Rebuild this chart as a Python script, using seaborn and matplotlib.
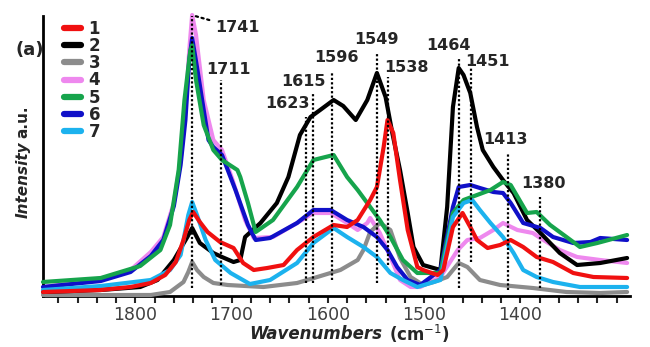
import matplotlib
matplotlib.use("Agg")
import matplotlib.pyplot as plt
from matplotlib.ticker import MultipleLocator
import seaborn as sns

# ------------------------------------------------------------
# Spectra (wavenumber cm-1, intensity a.u.)
# ------------------------------------------------------------
w1 = [1896, 1836, 1805, 1784, 1769, 1758, 1750, 1744, 1740, 1733, 1725, 1712, 1698, 1688, 1677, 1663,
      1646, 1632, 1615, 1594, 1580, 1569, 1556, 1549, 1542, 1538, 1532, 1525, 1517, 1507, 1501, 1486,
      1480, 1470, 1460, 1452, 1445, 1434, 1421, 1410, 1397, 1383, 1366, 1345, 1324, 1289]
i1 = [4, 6, 9, 13, 21, 34, 56, 76, 84, 74, 64, 54, 48, 33, 26, 28,
      31, 46, 59, 71, 69, 76, 96, 109, 149, 176, 163, 116, 66, 29, 26, 21,
      26, 69, 83, 69, 56, 48, 51, 56, 49, 39, 34, 23, 19, 18]

w2 = [1896, 1836, 1795, 1777, 1760, 1746, 1741, 1733, 1719, 1710, 1698, 1691, 1686, 1670, 1653, 1641,
      1629, 1618, 1608, 1594, 1584, 1571, 1559, 1549, 1540, 1533, 1525, 1517, 1511, 1501, 1483, 1476,
      1470, 1464, 1459, 1452, 1445, 1439, 1428, 1418, 1407, 1393, 1379, 1359, 1341, 1317, 1289]
i2 = [4, 6, 9, 16, 36, 59, 68, 53, 43, 39, 34, 36, 59, 73, 93, 119,
      161, 179, 186, 196, 190, 176, 196, 223, 199, 163, 126, 83, 49, 31, 26, 89,
      189, 228, 221, 203, 169, 146, 129, 116, 103, 76, 63, 43, 31, 33, 38]

w3 = [1896, 1784, 1764, 1750, 1745, 1741, 1736, 1729, 1719, 1704, 1667, 1632, 1611, 1587, 1569, 1563,
      1556, 1546, 1535, 1525, 1514, 1501, 1490, 1476, 1464, 1455, 1442, 1421, 1387, 1352, 1317, 1289]
i3 = [1, 1, 4, 14, 24, 34, 26, 19, 13, 11, 9, 13, 19, 26, 36, 46,
      64, 73, 66, 38, 19, 11, 14, 19, 33, 29, 16, 11, 8, 4, 3, 4]

w4 = [1896, 1864, 1829, 1805, 1784, 1771, 1760, 1753, 1748, 1744, 1741, 1737, 1729, 1719, 1710, 1699,
      1686, 1677, 1657, 1632, 1615, 1597, 1580, 1569, 1559, 1556, 1546, 1535, 1525, 1514, 1504, 1483,
      1465, 1455, 1442, 1428, 1418, 1403, 1387, 1376, 1359, 1341, 1317, 1289]
i4 = [9, 13, 19, 26, 44, 59, 93, 136, 186, 246, 281, 261, 196, 156, 146, 116,
      76, 58, 59, 73, 83, 83, 73, 66, 73, 78, 63, 39, 16, 9, 9, 19,
      46, 56, 58, 66, 73, 66, 63, 56, 46, 39, 36, 33]

w5 = [1896, 1836, 1795, 1774, 1764, 1755, 1749, 1743, 1741, 1737, 1729, 1719, 1710, 1694, 1691, 1683,
      1675, 1657, 1632, 1615, 1594, 1580, 1569, 1556, 1546, 1535, 1522, 1507, 1483, 1470, 1459, 1445,
      1431, 1418, 1410, 1393, 1383, 1369, 1352, 1338, 1320, 1289]
i5 = [14, 18, 30, 46, 71, 126, 196, 245, 251, 216, 171, 146, 136, 126, 119, 93,
      64, 76, 109, 136, 141, 119, 106, 89, 76, 59, 36, 23, 23, 83, 96, 101,
      106, 114, 111, 83, 84, 71, 59, 49, 53, 61]

w6 = [1896, 1836, 1805, 1784, 1771, 1760, 1753, 1748, 1744, 1741, 1736, 1729, 1724, 1719, 1710, 1696,
      1683, 1675, 1660, 1632, 1615, 1597, 1580, 1563, 1549, 1538, 1528, 1517, 1504, 1483, 1470, 1464,
      1452, 1442, 1428, 1418, 1410, 1397, 1379, 1366, 1345, 1327, 1317, 1289]
i6 = [9, 15, 24, 40, 56, 90, 131, 176, 236, 258, 229, 186, 156, 149, 141, 106,
      71, 56, 58, 73, 86, 86, 76, 69, 59, 46, 29, 16, 11, 26, 89, 109,
      111, 108, 104, 103, 93, 73, 68, 59, 53, 54, 58, 56]

w7 = [1896, 1836, 1784, 1764, 1753, 1745, 1741, 1736, 1727, 1717, 1701, 1681, 1660, 1632, 1615, 1594,
      1580, 1563, 1549, 1535, 1522, 1507, 1483, 1470, 1459, 1450, 1442, 1431, 1418, 1407, 1397, 1383,
      1366, 1338, 1289]
i7 = [6, 10, 16, 26, 41, 81, 94, 81, 56, 36, 23, 12, 16, 33, 53, 68,
      59, 49, 39, 23, 16, 9, 16, 79, 93, 96, 86, 73, 59, 43, 26, 19,
      14, 9, 9]

labels = ["1", "2", "3", "4", "5", "6", "7"]
colors = ["#f01010", "#000000", "#8c8c8c", "#ee88ee", "#16a44c", "#1010c8", "#1cb2ee"]
zorders = [8, 4, 3, 2, 6, 5, 7]

# assigned band positions, dotted line extent and label spot
peaks = [1741, 1711, 1623, 1615, 1596, 1549, 1538, 1464, 1451, 1413, 1380]
peak_top = [281, 216, 179, 203, 223, 244, 219, 239, 228, 143, 99]
peak_bot = [8, 11, 13, 13, 16, 13, 31, 8, 34, 6, 8]
label_x = [1717, 1703, 1642, 1625, 1591, 1550, 1518, 1475, 1434, 1415, 1376]
label_y = [268, 226, 193, 215, 238, 257, 228, 251, 234, 156, 113]

# ------------------------------------------------------------
# Plot
# ------------------------------------------------------------
sns.set_style("white")
plt.rcParams['font.family'] = ['DejaVu Sans']

fig = plt.figure(figsize=(6.5, 3.47), dpi=100)
ax = fig.add_axes([43 / 650, 1 - 296 / 347, 587 / 650, 280 / 347])

series = [(w1, i1), (w2, i2), (w3, i3), (w4, i4), (w5, i5), (w6, i6), (w7, i7)]
for (w, inten), lab, col, z in zip(series, labels, colors, zorders):
    sns.lineplot(x=w, y=inten, color=col, lw=3, ax=ax, sort=False, estimator=None,
                 label=lab, zorder=z, clip_on=False)

ax.vlines(peaks, peak_bot, peak_top, colors="black", linestyles=(0, (1, 1)), lw=1.6, zorder=10)

for p, lx, ly in zip(peaks, label_x, label_y):
    if p == 1741:
        ax.annotate(str(p), xy=(1738, 280), xytext=(lx, ly), ha="left", va="center",
                    fontsize=11.5, fontweight="bold",
                    arrowprops=dict(arrowstyle="-", linestyle=":", lw=1.6, color="black",
                                    shrinkA=2, shrinkB=0))
    else:
        ax.text(lx, ly, str(p), ha="center", va="center", fontsize=11.5, fontweight="bold")

ax.set_xlim(1896, 1286)
ax.set_ylim(0, 280)
ax.set_xticks([1800, 1700, 1600, 1500, 1400])
ax.xaxis.set_minor_locator(MultipleLocator(20))
ax.tick_params(axis="x", which="both", direction="out", length=5, width=1.5,
               bottom=True, labelsize=12.5, labelcolor="#404040", pad=2)
ax.set_yticks([])
ax.set_xlabel("")
ax.set_ylabel("")
sns.despine(ax=ax)
for s in ["left", "bottom"]:
    ax.spines[s].set_linewidth(2)
    ax.spines[s].set_color("black")

leg = ax.legend(loc="upper left", bbox_to_anchor=(0.025, 1.01), frameon=False,
                prop={"weight": "bold", "size": 12}, handlelength=1.0, handletextpad=0.45,
                labelspacing=-0.05, borderaxespad=0)
for h in leg.get_lines():
    h.set_linewidth(4.5)

# axis titles
fig.text(382 / 650, 1 - 334 / 347, "Wavenumbers", ha="right", va="center",
         fontsize=12, fontweight="bold", fontstyle="italic")
fig.text(389 / 650, 1 - 334 / 347, "(cm$^{-1}$)", ha="left", va="center",
         fontsize=12, fontweight="bold")
fig.text(23 / 650, 1 - 180 / 347, "Intensity", rotation=90, ha="center", va="center",
         fontsize=11, fontweight="bold", fontstyle="italic")
fig.text(23 / 650, 1 - 122 / 347, "a.u.", rotation=90, ha="center", va="center",
         fontsize=11, fontweight="bold")
fig.text(30 / 650, 1 - 50 / 347, "(a)", ha="center", va="center", fontsize=13, fontweight="bold")

plt.savefig("out.png", dpi=100)
